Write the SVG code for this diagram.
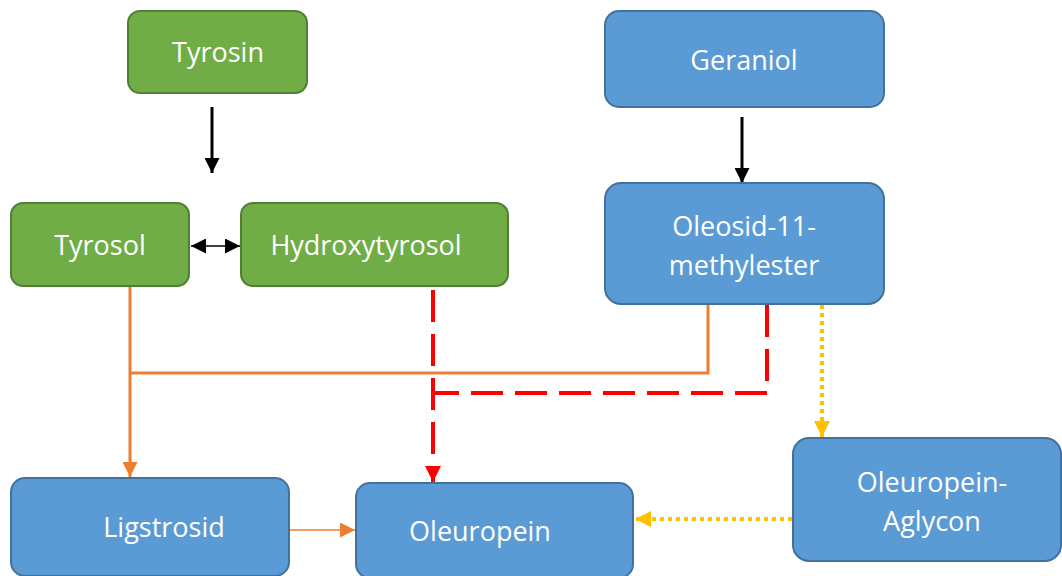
<svg xmlns="http://www.w3.org/2000/svg" width="1062" height="576" viewBox="0 0 1062 576">
<style>
.g{fill:#70AD47;stroke:#507E32;stroke-width:2}
.b{fill:#5B9BD5;stroke:#41719C;stroke-width:2}
text{font-family:"Open Sans","Liberation Sans",sans-serif;font-size:27px;fill:#fff;text-anchor:middle}
.blk{stroke:#000;fill:none}
.or{stroke:#ED7D31;fill:none}
.rd{stroke:#FF0000;fill:none;stroke-width:4;stroke-dasharray:32 12}
.yl{stroke:#FFC000;fill:none;stroke-width:4;stroke-dasharray:4 4}
</style>
<defs>
<marker id="aK" viewBox="0 0 10 10" refX="10" refY="5" markerWidth="5" markerHeight="5" orient="auto" markerUnits="strokeWidth"><path d="M0,0L10,5L0,10z" fill="#000"/></marker>
<marker id="aK2" viewBox="0 0 10 10" refX="10" refY="5" markerWidth="10" markerHeight="10" orient="auto-start-reverse" markerUnits="strokeWidth"><path d="M0,0L10,5L0,10z" fill="#000"/></marker>
<marker id="aO" viewBox="0 0 10 10" refX="10" refY="5" markerWidth="5" markerHeight="5" orient="auto" markerUnits="strokeWidth"><path d="M0,0L10,5L0,10z" fill="#ED7D31"/></marker>
<marker id="aO2" viewBox="0 0 10 10" refX="10" refY="5" markerWidth="10" markerHeight="10" orient="auto" markerUnits="strokeWidth"><path d="M0,0L10,5L0,10z" fill="#ED7D31"/></marker>
<marker id="aR" viewBox="0 0 10 10" refX="10" refY="5" markerWidth="4" markerHeight="4" orient="auto" markerUnits="strokeWidth"><path d="M0,0L10,5L0,10z" fill="#FF0000"/></marker>
<marker id="aY" viewBox="0 0 10 10" refX="10" refY="5" markerWidth="4" markerHeight="4" orient="auto" markerUnits="strokeWidth"><path d="M0,0L10,5L0,10z" fill="#FFC000"/></marker>
</defs>
<g id="connectors">
<line class="blk" x1="212" y1="107" x2="212" y2="173" stroke-width="3" marker-end="url(#aK)"/>
<line class="blk" x1="191" y1="246" x2="240" y2="246" stroke-width="1.5" marker-start="url(#aK2)" marker-end="url(#aK2)"/>
<line class="blk" x1="742" y1="117" x2="742" y2="183" stroke-width="3" marker-end="url(#aK)"/>
<polyline class="or" stroke-width="3" points="708,305 708,373 130,373"/>
<line class="or" stroke-width="3" x1="130" y1="287" x2="130" y2="477" marker-end="url(#aO)"/>
<line class="or" stroke-width="1.5" x1="290" y1="530" x2="355" y2="530" marker-end="url(#aO2)"/>
<line class="rd" x1="433" y1="290" x2="433" y2="482" marker-end="url(#aR)"/>
<polyline class="rd" points="767,305 767,393 435,393"/>
<line class="yl" x1="822" y1="305" x2="822" y2="437" marker-end="url(#aY)"/>
<line class="yl" x1="792" y1="519" x2="635" y2="519" marker-end="url(#aY)"/>
</g>
<g id="tyrosin"><rect class="g" x="128" y="11" width="179" height="82" rx="12"/><text x="218" y="62">Tyrosin</text></g>
<g id="tyrosol"><rect class="g" x="11" y="203" width="178" height="83" rx="12"/><text x="100" y="255">Tyrosol</text></g>
<g id="hydroxytyrosol"><rect class="g" x="241" y="203" width="267" height="83" rx="12"/><text x="366" y="255">Hydroxytyrosol</text></g>
<g id="geraniol"><rect class="b" x="605" y="11" width="279" height="96" rx="14"/><text x="744" y="70">Geraniol</text></g>
<g id="oleosid"><rect class="b" x="605" y="183" width="279" height="121" rx="16"/><text x="744" y="236">Oleosid-11-</text><text x="744" y="275">methylester</text></g>
<g id="aglycon"><rect class="b" x="793" y="438" width="268" height="123" rx="16"/><text x="932" y="492">Oleuropein-</text><text x="932" y="531">Aglycon</text></g>
<g id="ligstrosid"><rect class="b" x="11" y="478" width="278" height="98" rx="14"/><text x="164" y="537">Ligstrosid</text></g>
<g id="oleuropein"><rect class="b" x="356" y="483" width="277" height="95" rx="14"/><text x="480" y="541">Oleuropein</text></g>
</svg>
